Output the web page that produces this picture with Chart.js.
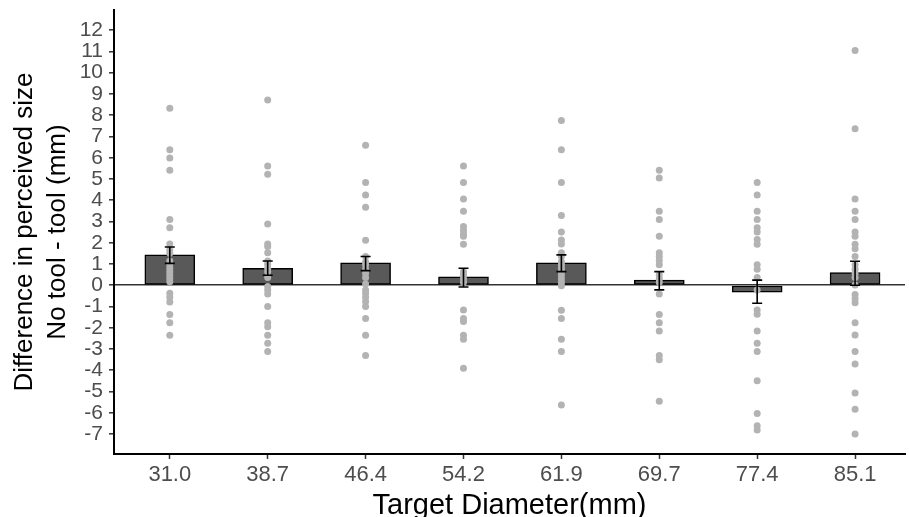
<!DOCTYPE html>
<html>
<head>
<meta charset="utf-8">
<script src="https://cdn.jsdelivr.net/npm/chart.js@4.4.1/dist/chart.umd.min.js"></script>
<style>
  html, body { margin: 0; padding: 0; background: #fff; }
  #wrap { width: 909px; height: 517px; position: relative; }
</style>
</head>
<body>
<div id="wrap"><canvas id="diffChart"></canvas></div>
<script>
// Target diameters (mm)
const categories = ['31.0', '38.7', '46.4', '54.2', '61.9', '69.7', '77.4', '85.1']

// Mean difference per target and its error bar ends
const barMeans = [1.43, 0.80, 1.05, 0.39, 1.05, 0.24, -0.33, 0.59]
const errLow = [1.03, 0.47, 0.69, -0.08, 0.64, -0.22, -0.85, 0.00]
const errHigh = [1.80, 1.14, 1.35, 0.80, 1.43, 0.64, 0.24, 1.13]

// Individual participant differences per target
const dots310 = [8.33, 6.38, 5.99, 5.41, 3.09, 2.70, 1.94, 1.66, 1.50, 1.14, 0.96, 0.80, 0.64, 0.48, 0.33, 0.17, -0.38, -0.56, -0.79, -1.38, -1.76, -2.35]
const dots387 = [8.72, 5.61, 5.22, 2.88, 1.94, 1.82, 1.53, 1.14, 0.99, 0.80, 0.64, 0.36, -0.06, -0.22, -0.41, -1.00, -1.76, -1.95, -2.35, -2.73, -3.12]
const dots464 = [6.59, 4.83, 4.25, 3.67, 2.12, 1.35, 1.11, 0.96, 0.75, 0.56, 0.36, 0.06, -0.22, -0.38, -0.56, -0.77, -1.00, -1.57, -2.35, -3.31]
const dots542 = [5.61, 4.83, 4.06, 3.48, 2.76, 2.57, 2.41, 2.30, 1.93, 0.64, 0.48, 0.30, 0.14, -1.16, -1.57, -1.71, -2.35, -2.54, -3.91]
const dots619 = [7.75, 6.38, 4.83, 3.28, 2.51, 2.13, 1.94, 1.53, 1.35, 1.11, 0.96, 0.80, 0.64, 0.48, 0.30, 0.14, -0.02, -1.18, -1.57, -2.54, -3.12, -5.63]
const dots697 = [5.41, 5.04, 3.48, 3.09, 2.30, 1.53, 1.35, 1.16, 0.96, 0.48, 0.30, 0.14, -0.41, -1.38, -1.76, -2.15, -3.31, -3.50, -5.46]
const dots774 = [4.83, 4.25, 3.48, 3.09, 2.70, 2.51, 2.15, 1.93, 0.96, 0.75, 0.36, -0.22, -1.16, -1.36, -2.15, -2.73, -3.12, -4.49, -6.04, -6.61, -6.81]
const dots851 = [11.04, 7.36, 4.06, 3.48, 3.09, 2.51, 2.30, 1.93, 1.72, 1.35, 0.96, 0.75, 0.56, 0.36, 0.01, -0.44, -0.63, -0.82, -1.76, -2.34, -3.12, -3.70, -5.07, -5.84, -7.00]
const dotsByTarget = [dots310, dots387, dots464, dots542, dots619, dots697, dots774, dots851]

// y ticks shown on the axis
const yTicks = [-7, -6, -5, -4, -3, -2, -1, 0, 1, 2, 3, 4, 5, 6, 7, 8, 9, 10, 11, 12]

const FONT = "'Liberation Sans', Arial, sans-serif"

const barData = barMeans.map((v, i) => ({ x: i + 1, y: v }))
const dotData = []
dotsByTarget.forEach((arr, i) => {
  arr.forEach(v => dotData.push({ x: i + 1, y: v }))
})

// draws the mean +/- error whiskers on top of everything
const errorBars = {
  id: 'errorBars',
  afterDatasetsDraw(chart) {
    const { ctx, scales: { x, y } } = chart
    ctx.save()
    ctx.strokeStyle = '#000'
    ctx.lineWidth = 1.6
    barMeans.forEach((m, i) => {
      const px = x.getPixelForValue(i + 1)
      const top = y.getPixelForValue(errHigh[i])
      const bot = y.getPixelForValue(errLow[i])
      ctx.beginPath()
      ctx.moveTo(px, top); ctx.lineTo(px, bot)
      ctx.moveTo(px - 5, top); ctx.lineTo(px + 5, top)
      ctx.moveTo(px - 5, bot); ctx.lineTo(px + 5, bot)
      ctx.stroke()
    })
    ctx.restore()
  }
}

const ctx = document.getElementById('diffChart').getContext('2d')
const diffChart = new Chart(ctx, {
  type: 'bar',
  data: {
    datasets: [
      {
        type: 'scatter',
        label: 'participants',
        data: dotData,
        pointRadius: 3.5,
        pointBackgroundColor: '#b3b3b3',
        pointBorderWidth: 0,
        order: 0
      },
      {
        type: 'bar',
        label: 'mean',
        data: barData,
        backgroundColor: '#595959',
        borderColor: '#000',
        borderWidth: 1.5,
        borderSkipped: false,
        barThickness: 50,
        order: 1
      }
    ]
  },
  options: {
    responsive: true,
    maintainAspectRatio: false,
    animation: false,
    layout: { padding: { top: 10, right: 0, bottom: 0, left: 0 } },
    scales: {
      x: {
        type: 'linear',
        min: 0.43,
        max: 8.51,
        offset: false,
        afterFit: s => { s.height = 63; s.paddingLeft = 0; s.paddingRight = 0 },
        afterBuildTicks: s => { s.ticks = categories.map((c, i) => ({ value: i + 1 })) },
        ticks: {
          callback: v => categories[v - 1],
          color: '#4d4d4d',
          font: { family: FONT, size: 22 },
          padding: 3,
          maxRotation: 0,
          autoSkip: false
        },
        grid: { offset: false, drawOnChartArea: false, drawTicks: true, tickLength: 5, tickColor: '#333', tickWidth: 1.5 },
        border: { display: true, color: '#000', width: 2 },
        title: {
          display: true,
          text: 'Target Diameter(mm)',
          color: '#000',
          font: { family: FONT, size: 29, lineHeight: 1 },
          padding: { top: 0, bottom: -3 }
        }
      },
      y: {
        min: -7.94,
        max: 12.95,
        afterFit: s => { s.width = 114; s.paddingTop = 0; s.paddingBottom = 0 },
        afterBuildTicks: s => { s.ticks = yTicks.map(v => ({ value: v })) },
        ticks: {
          color: '#4d4d4d',
          font: { family: FONT, size: 21 },
          padding: 6,
          autoSkip: false
        },
        grid: {
          color: c => (c.tick && c.tick.value === 0 ? '#333' : 'rgba(0,0,0,0)'),
          lineWidth: 1.6,
          tickColor: '#333',
          tickLength: 5,
          tickWidth: 1.5
        },
        border: { display: true, color: '#000', width: 2 },
        title: {
          display: true,
          text: ['Difference in perceived size', 'No tool - tool (mm)'],
          color: '#000',
          font: { family: FONT, size: 26, lineHeight: 1.25 },
          padding: { top: 9, bottom: 0 }
        }
      }
    },
    plugins: {
      legend: { display: false },
      tooltip: { enabled: false }
    }
  },
  plugins: [errorBars]
})
</script>
</body>
</html>
